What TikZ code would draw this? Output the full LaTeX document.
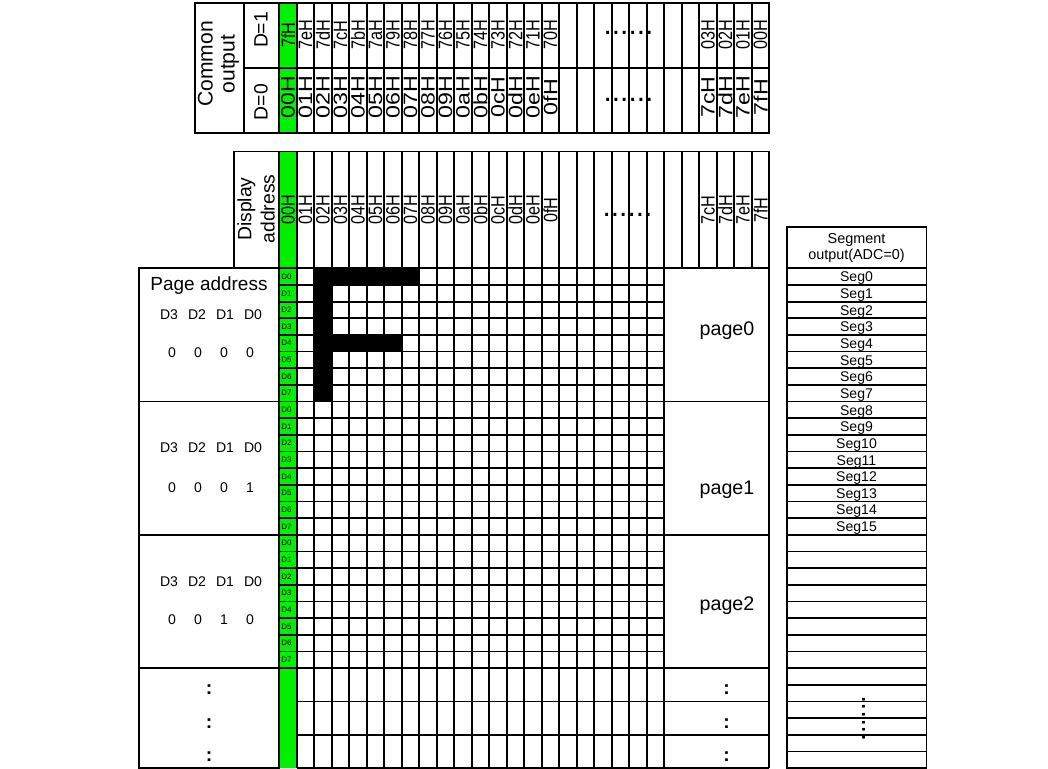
\documentclass[tikz,border=0pt]{standalone}
\usepackage{fontspec}
\setmainfont{Liberation Sans}
\usepackage{graphicx}
\usepackage{tikz}

\definecolor{lcdgreen}{RGB}{0,240,0}

\begin{document}
\begin{tikzpicture}[x=0.02cm, y=-0.02cm, line width=1pt,
    hexlbl/.style={rotate=90, inner sep=0pt, font=\fontsize{11}{12}\selectfont},
    bitlbl/.style={anchor=west, inner sep=0pt, font=\fontsize{4.5}{5}\selectfont},
    addrbit/.style={inner sep=0pt, font=\fontsize{8}{9}\selectfont},
    pagelbl/.style={anchor=base, inner sep=0pt, font=\fontsize{11.2}{13}\selectfont},
    seglbl/.style={inner sep=0pt, font=\fontsize{8}{9}\selectfont},
    hdots/.style={inner sep=0pt, font=\fontsize{17}{18}\selectfont},
    colon/.style={inner sep=0pt, font=\bfseries\fontsize{11}{12}\selectfont}]

  \useasboundingbox (0,0) rectangle (1048,768);

  % green column
  \fill[lcdgreen] (279.3,3) rectangle (296.8,133);
  \fill[lcdgreen] (279.3,151.5) rectangle (296.8,768);

  % common output table
  \draw (195,3) rectangle (769.3,133);
  \draw (244,3) -- (244,133);
  \draw (244,67.7) -- (769.3,67.7);
  \foreach \i in {0,...,27}
    \draw ({279.3+17.5*\i},3) -- ({279.3+17.5*\i},133);
  \node[rotate=90, align=center, inner sep=0pt, font=\fontsize{12}{12.5}\selectfont] (comout) at (218.5,64) {Common\\output};
  \node[rotate=90, inner sep=0pt, font=\fontsize{11}{12}\selectfont] (dset) at (261,30) {D=1};
  \node[rotate=90, inner sep=0pt, font=\fontsize{11}{12}\selectfont] (dclr) at (261,102) {D=0};
  \foreach \i/\t in {0/7fH,1/7eH,2/7dH,3/7cH,4/7bH,5/7aH,6/79H,7/78H,8/77H,9/76H,10/75H,11/74H,
      12/73H,13/72H,14/71H,15/70H,24/03H,25/02H,26/01H,27/00H}
    \node[hexlbl] (com\i) at ({288.05+17.5*\i},35) {\scalebox{0.84}[1]{\t}};
  \foreach \i/\t in {0/00H,1/01H,2/02H,3/03H,4/04H,5/05H,6/06H,7/07H,8/08H,9/09H,10/0aH,11/0bH,
      12/0cH,13/0dH,14/0eH,15/0fH,24/7cH,25/7dH,26/7eH,27/7fH}
    \node[hexlbl] (cor\i) at ({288.05+17.5*\i},97) {\scalebox{1.2}[1]{\t}};
  \node[hdots] (comdots) at (628.5,32.5) {......};
  \node[hdots] (cordots) at (628.5,100) {......};

  % display address table
  \draw (234,151.5) rectangle (769.3,268.3);
  \foreach \i in {0,...,27}
    \draw ({279.3+17.5*\i},151.5) -- ({279.3+17.5*\i},268.3);
  \node[rotate=90, align=center, inner sep=0pt, font=\fontsize{11}{13.2}\selectfont] (dispaddr) at (256,209) {Display\\address};
  \foreach \i/\t in {0/00H,1/01H,2/02H,3/03H,4/04H,5/05H,6/06H,7/07H,8/08H,9/09H,10/0aH,11/0bH,
      12/0cH,13/0dH,14/0eH,15/0fH,24/7cH,25/7dH,26/7eH,27/7fH}
    \node[hexlbl] (col\i) at ({288.05+17.5*\i},210) {\scalebox{0.84}[1]{\t}};
  \node[hdots] (coldots) at (627.5,215) {......};

  % display ram grid
  \foreach \j in {0,...,24}
    \draw (279.3,{268.3+16.66*\j}) -- (664.3,{268.3+16.66*\j});
  \foreach \j in {26,28,30}
    \draw (296.8,{268.3+16.66*\j}) -- (664.3,{268.3+16.66*\j});
  \foreach \j in {0,8,16,24,26,28,30}
    \draw (664.3,{268.3+16.66*\j}) -- (769.3,{268.3+16.66*\j});
  \foreach \i in {1,...,22}
    \draw ({279.3+17.5*\i},268.3) -- ({279.3+17.5*\i},768);
  \draw (769.3,268.3) -- (769.3,768);
  \foreach \j in {0,...,23} {
    \pgfmathtruncatemacro\b{mod(\j,8)}
    \node[bitlbl] (bit\j) at (280.6,{276.63+16.66*\j}) {D\b};
  }

  % letter F
  \fill (314.3,268.3) rectangle (419.3,284.96);
  \fill (314.3,268.3) rectangle (331.8,401.58);
  \fill (314.3,334.94) rectangle (401.8,351.6);

  % page address
  \draw (139,268.3) rectangle (279.3,768);
  \foreach \j in {8,16,24}
    \draw (139,{268.3+16.66*\j}) -- (279.3,{268.3+16.66*\j});
  \node[inner sep=0pt, font=\fontsize{10.8}{12}\selectfont] (pgaddr) at (209,285.5) {Page address};
  \foreach \p/\yd/\yv/\ba/\bb/\bc/\bd in {0/315/353/0/0/0/0,1/448/488/0/0/0/1,2/582/620/0/0/1/0} {
    \node[addrbit] (hd3p\p) at (169,\yd) {D3};
    \node[addrbit] (hd2p\p) at (197,\yd) {D2};
    \node[addrbit] (hd1p\p) at (225,\yd) {D1};
    \node[addrbit] (hd0p\p) at (253,\yd) {D0};
    \node[addrbit] (v3p\p) at (172,\yv) {\ba};
    \node[addrbit] (v2p\p) at (198,\yv) {\bb};
    \node[addrbit] (v1p\p) at (224,\yv) {\bc};
    \node[addrbit] (v0p\p) at (250,\yv) {\bd};
  }
  \node[pagelbl] (page0) at (727,335) {page0};
  \node[pagelbl] (page1) at (727,494) {page1};
  \node[pagelbl] (page2) at (727,610) {page2};
  \foreach \y [count=\n] in {690,724,757} {
    \node[colon] (lcol\n) at (209,\y) {:};
    \node[colon] (rcol\n) at (726.5,\y) {:};
  }

  % segment output
  \draw (786.7,227.3) rectangle (926.5,768);
  \foreach \j in {0,...,29}
    \draw (786.7,{268.3+16.66*\j}) -- (926.5,{268.3+16.66*\j});
  \node[align=center, inner sep=0pt, font=\fontsize{8.2}{9.2}\selectfont] (seghead) at (856.5,248) {Segment\\output(ADC=0)};
  \foreach \k in {0,...,15}
    \node[seglbl] (seg\k) at (856.5,{278.3+16.66*\k}) {Seg\k};
  \node[hdots, rotate=90, font=\fontsize{15.5}{16}\selectfont] (segdots) at (864,718.5) {......};
\end{tikzpicture}
\end{document}
